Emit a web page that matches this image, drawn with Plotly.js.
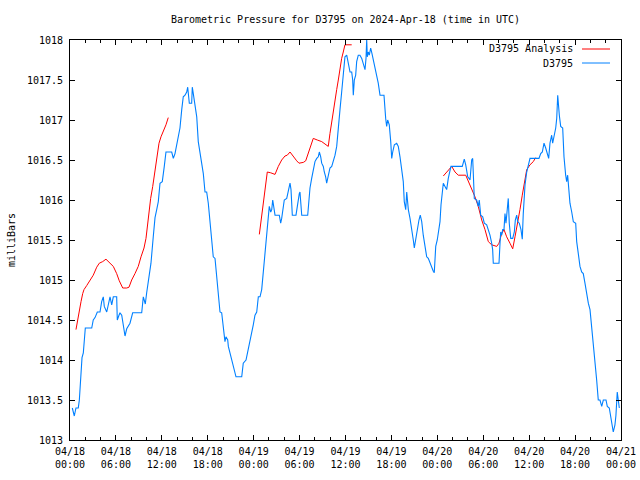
<!DOCTYPE html>
<html>
<head>
<meta charset="utf-8">
<script src="https://cdn.plot.ly/plotly-3.0.1.min.js"></script>
<style>html,body{margin:0;padding:0;background:#fff}#chart{width:640px;height:480px}</style>
</head>
<body>
<div id="chart"></div>
<script>
// Hours after 2024-04-18 00:00 UTC
const obsHours = [0.30,0.56,0.78,1.08,1.22,1.40,1.57,1.74,1.87,2.00,2.84,3.04,3.27,3.57,3.92,4.14,4.35,4.48,4.80,5.00,5.23,5.45,5.66,6.10,6.18,6.40,6.53,6.76,6.96,7.19,7.41,7.62,7.84,8.19,9.37,9.58,9.84,10.02,10.36,10.58,10.88,11.11,11.33,11.54,11.76,12.06,12.32,12.54,13.29,13.50,13.72,13.94,14.15,14.37,14.60,14.80,15.03,15.25,15.38,15.46,15.59,15.90,15.98,16.11,16.33,16.56,16.76,16.99,17.21,17.42,17.64,17.86,18.07,18.29,18.52,18.72,18.95,19.17,19.38,19.60,19.82,20.03,20.25,20.38,20.61,20.69,20.91,21.13,21.34,21.56,21.69,22.44,22.64,23.00,23.30,23.52,23.74,23.95,24.17,24.40,24.61,24.83,25.05,25.18,25.35,25.48,25.61,25.70,25.91,26.04,26.23,26.36,26.49,26.62,26.79,27.35,27.53,27.66,27.87,28.00,28.32,28.52,28.75,28.88,28.97,29.05,29.53,29.70,29.83,29.96,30.05,30.18,30.28,31.06,31.23,31.36,31.58,31.79,32.01,32.24,32.44,32.58,32.76,32.89,33.10,33.23,33.41,33.54,33.67,33.84,33.97,34.20,34.41,34.63,34.85,34.98,35.15,35.28,35.50,35.63,35.80,35.93,36.16,36.29,36.46,36.59,36.81,36.94,37.02,37.15,37.33,37.46,37.67,37.89,38.12,38.32,38.55,38.68,38.77,38.85,38.98,39.11,39.29,39.46,39.63,39.85,40.08,40.28,40.51,41.03,41.25,41.38,41.51,41.72,41.91,42.04,42.17,42.38,42.69,42.90,43.12,43.34,43.55,43.68,43.87,44.00,44.21,44.43,44.65,44.86,44.99,45.17,45.38,45.60,45.77,45.96,46.16,46.39,46.61,46.82,47.04,47.26,47.47,47.60,47.79,47.99,48.22,48.35,48.48,48.65,48.78,49.00,49.22,49.43,49.65,49.78,51.26,51.39,51.52,51.71,51.84,51.97,52.14,52.27,52.49,52.62,52.70,52.83,53.14,53.35,53.48,53.67,53.93,54.14,54.45,54.66,54.88,55.10,55.23,55.31,56.06,56.19,56.28,56.41,56.54,56.71,56.84,56.97,57.14,57.27,57.40,57.59,57.85,58.06,58.19,58.37,58.50,58.71,58.93,59.10,59.23,59.46,59.68,59.89,60.11,61.28,61.51,61.72,61.94,62.16,62.37,62.55,62.72,62.94,63.07,63.24,63.47,63.60,63.73,63.94,64.12,64.38,64.55,64.77,64.90,65.03,65.20,65.33,65.56,65.77,66.08,66.21,66.42,66.64,66.86,67.07,67.29,67.52,67.73,67.95,68.17,68.38,68.60,68.82,69.03,69.25,69.48,69.69,70.04,70.21,70.47,70.65,70.82,70.99,71.21,71.34,71.51,71.65,71.78];
const obsPressure = [1013.40,1013.30,1013.40,1013.40,1013.50,1013.85,1014.03,1014.09,1014.33,1014.40,1014.40,1014.50,1014.53,1014.60,1014.60,1014.73,1014.79,1014.67,1014.60,1014.71,1014.79,1014.69,1014.79,1014.79,1014.50,1014.56,1014.59,1014.56,1014.44,1014.30,1014.39,1014.42,1014.46,1014.59,1014.59,1014.79,1014.70,1014.84,1015.06,1015.21,1015.54,1015.78,1015.88,1015.98,1016.21,1016.23,1016.42,1016.60,1016.60,1016.52,1016.58,1016.69,1016.77,1016.90,1017.13,1017.29,1017.31,1017.35,1017.41,1017.35,1017.21,1017.21,1017.41,1017.33,1017.19,1017.04,1016.73,1016.58,1016.48,1016.33,1016.10,1016.10,1015.96,1015.75,1015.52,1015.29,1015.27,1015.04,1014.83,1014.60,1014.59,1014.38,1014.23,1014.29,1014.25,1014.17,1014.09,1013.98,1013.90,1013.85,1013.79,1013.79,1013.96,1014.00,1014.13,1014.25,1014.35,1014.44,1014.56,1014.60,1014.79,1014.79,1014.88,1015.02,1015.17,1015.33,1015.48,1015.63,1015.83,1015.92,1015.85,1015.88,1016.00,1015.92,1015.81,1015.81,1015.71,1015.77,1015.88,1016.00,1016.02,1016.13,1016.21,1016.13,1015.96,1015.81,1015.81,1015.92,1016.04,1016.08,1016.10,1015.98,1015.81,1015.81,1016.04,1016.15,1016.27,1016.38,1016.48,1016.52,1016.54,1016.60,1016.54,1016.46,1016.42,1016.35,1016.29,1016.21,1016.27,1016.33,1016.40,1016.42,1016.48,1016.56,1016.67,1016.79,1016.92,1017.13,1017.35,1017.52,1017.71,1017.79,1017.81,1017.75,1017.67,1017.60,1017.60,1017.50,1017.31,1017.50,1017.56,1017.73,1017.81,1017.81,1017.77,1017.71,1017.63,1017.77,1018.00,1017.79,1017.85,1017.81,1017.90,1017.83,1017.75,1017.67,1017.54,1017.46,1017.31,1017.31,1017.02,1016.92,1017.00,1016.94,1016.73,1016.52,1016.60,1016.69,1016.71,1016.67,1016.54,1016.40,1016.23,1015.98,1015.88,1016.10,1015.88,1015.77,1015.65,1015.50,1015.40,1015.50,1015.65,1015.75,1015.81,1015.73,1015.56,1015.40,1015.29,1015.27,1015.21,1015.16,1015.11,1015.09,1015.42,1015.50,1015.63,1015.73,1015.94,1016.10,1016.21,1016.17,1016.13,1016.27,1016.38,1016.42,1016.42,1016.46,1016.51,1016.44,1016.38,1016.29,1016.27,1016.25,1016.50,1016.52,1016.33,1016.02,1016.00,1015.92,1016.00,1015.81,1015.79,1015.71,1015.69,1015.63,1015.56,1015.46,1015.38,1015.21,1015.21,1015.46,1015.60,1015.56,1015.63,1015.63,1015.83,1015.71,1015.90,1016.02,1015.71,1015.52,1015.52,1015.60,1015.75,1015.81,1015.73,1015.71,1015.63,1015.51,1015.83,1016.19,1016.35,1016.42,1016.52,1016.52,1016.58,1016.60,1016.71,1016.65,1016.58,1016.52,1016.71,1016.81,1016.71,1016.79,1016.90,1017.02,1017.31,1017.06,1016.92,1016.90,1016.54,1016.31,1016.23,1016.31,1016.08,1015.96,1015.85,1015.73,1015.71,1015.48,1015.33,1015.17,1015.10,1015.08,1014.96,1014.81,1014.71,1014.63,1014.42,1014.19,1014.00,1013.75,1013.50,1013.50,1013.42,1013.50,1013.50,1013.42,1013.40,1013.29,1013.19,1013.10,1013.19,1013.31,1013.60,1013.50,1013.40];

// Analysis series: three runs separated by null gaps
const anaHours = [0.78,0.95,1.22,1.44,1.66,1.83,2.18,2.61,3.04,3.49,3.83,4.27,4.70,5.23,5.66,6.10,6.44,6.89,7.41,7.71,8.06,8.49,8.92,9.28,9.67,9.93,10.10,10.32,10.54,10.81,11.11,11.41,11.63,11.89,12.19,12.54,12.84,
  null,
  24.74,24.92,25.18,25.35,25.57,25.78,26.23,26.79,27.22,27.66,28.09,28.39,28.75,29.18,29.62,29.92,30.49,30.80,31.14,31.45,31.79,32.31,32.89,33.32,33.75,33.97,34.20,34.41,34.63,34.85,35.06,35.28,35.50,35.71,35.93,36.81,
  null,
  48.78,49.22,49.88,50.31,50.74,51.71,52.05,52.49,52.92,53.35,53.80,54.23,54.66,55.10,55.76,56.06,56.41,56.71,57.06,57.49,57.85,58.15,58.50,58.80,59.10,59.36,59.68,60.11,60.54,60.85];
const anaPressure = [1014.38,1014.48,1014.63,1014.73,1014.83,1014.88,1014.93,1014.99,1015.06,1015.16,1015.21,1015.23,1015.26,1015.21,1015.17,1015.08,1014.99,1014.90,1014.90,1014.91,1015.00,1015.08,1015.17,1015.29,1015.40,1015.52,1015.67,1015.83,1016.02,1016.17,1016.35,1016.52,1016.71,1016.79,1016.85,1016.94,1017.03,
  null,
  1015.57,1015.71,1015.88,1016.08,1016.25,1016.35,1016.34,1016.32,1016.42,1016.50,1016.55,1016.56,1016.60,1016.54,1016.49,1016.46,1016.47,1016.49,1016.58,1016.68,1016.77,1016.75,1016.73,1016.70,1016.67,1016.83,1016.96,1017.13,1017.23,1017.38,1017.50,1017.67,1017.77,1017.85,1017.94,1017.94,
  null,
  1016.30,1016.35,1016.42,1016.35,1016.31,1016.31,1016.23,1016.15,1016.04,1015.92,1015.75,1015.63,1015.48,1015.44,1015.42,1015.46,1015.58,1015.63,1015.54,1015.46,1015.39,1015.54,1015.71,1015.88,1016.06,1016.21,1016.38,1016.44,1016.48,1016.53];

const xTickVals = [0,6,12,18,24,30,36,42,48,54,60,66,72];
const xTickText = ['04/18<br>00:00','04/18<br>06:00','04/18<br>12:00','04/18<br>18:00','04/19<br>00:00','04/19<br>06:00','04/19<br>12:00','04/19<br>18:00','04/20<br>00:00','04/20<br>06:00','04/20<br>12:00','04/20<br>18:00','04/21<br>00:00'];
const yTickVals = [1013,1013.5,1014,1014.5,1015,1015.5,1016,1016.5,1017,1017.5,1018];
const yTickText = ['1013','1013.5','1014','1014.5','1015','1015.5','1016','1016.5','1017','1017.5','1018'];

const seriesNames = ['D3795 Analysis','D3795'];
const seriesColors = ['#ff0000','#0080ff'];

const FONT = {family:'"DejaVu Sans Mono", "Liberation Mono", monospace', size:10, color:'#000'};

const traces = [
  {x: anaHours, y: anaPressure, type:'scatter', mode:'lines', name: seriesNames[0],
   line:{color: seriesColors[0], width:1}, connectgaps:false, hoverinfo:'skip'},
  {x: obsHours, y: obsPressure, type:'scatter', mode:'lines', name: seriesNames[1],
   line:{color: seriesColors[1], width:1.1}, hoverinfo:'skip'}
];

const W = 640, H = 480, L = 70, R = 19, T = 40, B = 40;
const pw = W - L - R, ph = H - T - B;
const px = v => (v - L) / pw;        // pixel -> paper x
const py = v => (H - B - v) / ph;    // pixel -> paper y

const legendY = [49, 63];
const layout = {
  width: W, height: H,
  margin: {l: L, r: R, t: T, b: B, pad: 0},
  paper_bgcolor: '#fff', plot_bgcolor: '#fff',
  font: FONT,
  showlegend: false,
  title: {text: 'Barometric Pressure for D3795 on 2024-Apr-18 (time in UTC)',
          font: FONT, x: 0.5, xref: 'paper', xanchor: 'center',
          y: 1 - 19/H, yref: 'container', yanchor: 'middle'},
  xaxis: {
    range: [0, 72], showgrid: false, zeroline: false,
    showline: true, linecolor: '#000', linewidth: 1, mirror: 'ticks',
    ticks: 'inside', ticklen: 5, tickcolor: '#000', tickwidth: 1,
    tickmode: 'array', tickvals: xTickVals, ticktext: xTickText,
    tickfont: FONT, ticklabelstandoff: 2,
    minor: {tickmode: 'linear', tick0: 0, dtick: 2, ticks: 'inside', ticklen: 3, tickcolor: '#000', showgrid: false}
  },
  yaxis: {
    range: [1013, 1018], showgrid: false, zeroline: false,
    showline: true, linecolor: '#000', linewidth: 1, mirror: 'ticks',
    ticks: 'inside', ticklen: 5, tickcolor: '#000', tickwidth: 1,
    tickmode: 'array', tickvals: yTickVals, ticktext: yTickText,
    tickfont: FONT, ticklabelstandoff: 4,
    title: {text: 'milliBars', font: FONT, standoff: 9}
  },
  annotations: seriesNames.map((n, i) => ({
    text: n, xref: 'paper', yref: 'paper', x: px(575), y: py(legendY[i]),
    xanchor: 'right', yanchor: 'middle', showarrow: false, font: FONT
  })),
  shapes: seriesNames.map((n, i) => ({
    type: 'line', xref: 'paper', yref: 'paper',
    x0: px(582), x1: px(610), y0: py(legendY[i]), y1: py(legendY[i]),
    line: {color: seriesColors[i], width: 1}
  }))
};

Plotly.newPlot('chart', traces, layout, {staticPlot: true, displayModeBar: false});
</script>
</body>
</html>
